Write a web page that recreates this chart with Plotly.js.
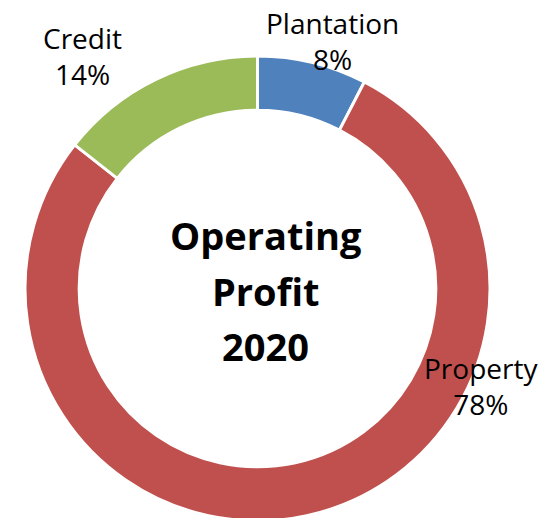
<!DOCTYPE html>
<html>
<head>
<meta charset="utf-8">
<script src="https://cdn.plot.ly/plotly-3.0.1.min.js"></script>
<style>
html, body { margin: 0; padding: 0; overflow: hidden; background: #ffffff; }
#chart { width: 552px; height: 530px; }
</style>
</head>
<body>
<div id="chart"></div>
<script>
const categories = ["Plantation", "Property", "Credit"];
const shares = [7.6, 78.0, 14.4];
const sliceColors = ["#4F81BD", "#C0504D", "#9BBB59"];
const centerTitle = ["Operating", "Profit", "2020"];

const W = 552, H = 530;
const px = x => x / W;
const py = y => (H - y) / H;

const total = shares.reduce((a, b) => a + b, 0);
const labelPos = [[332, 41], [481, 386], [82, 56]];
const titlePos = [[266, 235], [265, 291], [265, 346]];

const annotations = [];
categories.forEach((c, i) => {
  annotations.push({
    text: c + "<br>" + Math.round(shares[i] / total * 100) + "%",
    x: px(labelPos[i][0]), y: py(labelPos[i][1]),
    xref: "paper", yref: "paper", xanchor: "center", yanchor: "middle",
    showarrow: false, align: "center",
    font: { family: "Open Sans", size: 28, color: "#000000" }
  });
});
centerTitle.forEach((t, i) => {
  annotations.push({
    text: "<b>" + t + "</b>",
    x: px(titlePos[i][0]), y: py(titlePos[i][1]),
    xref: "paper", yref: "paper", xanchor: "center", yanchor: "middle",
    showarrow: false,
    font: { family: "Open Sans", size: 38, color: "#000000" }
  });
});

const trace = {
  type: "pie",
  labels: categories,
  values: shares,
  hole: 0.767,
  sort: false,
  direction: "clockwise",
  rotation: 0,
  textinfo: "none",
  hoverinfo: "label+percent",
  marker: { colors: sliceColors, line: { color: "#ffffff", width: 3 } },
  domain: { x: [px(25), px(490)], y: [py(521), py(56)] },
  showlegend: false
};

Plotly.newPlot("chart", [trace], {
  width: W, height: H,
  margin: { l: 0, r: 0, t: 0, b: 0 },
  paper_bgcolor: "#ffffff",
  showlegend: false,
  annotations: annotations
}, { staticPlot: true });
</script>
</body>
</html>
